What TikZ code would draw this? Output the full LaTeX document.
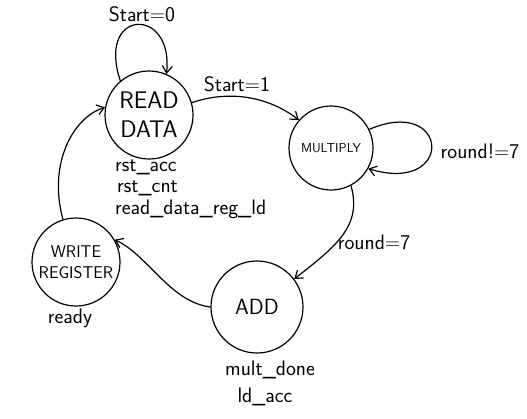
\documentclass[tikz,border=0pt]{standalone}
\usetikzlibrary{arrows.meta}

\tikzset{
  state/.style={draw, circle, line width=1.2pt, inner sep=0pt, font=\sffamily, align=center},
  sig/.style={font=\sffamily\fontsize{21}{24}\selectfont, inner sep=0pt},
  edge/.style={line width=1.2pt, -{Straight Barb[length=7pt, width=10pt]}},
}

\begin{document}
\begin{tikzpicture}[x=1pt, y=-1pt]

% 画布（像素坐标，y 向下）
\useasboundingbox (0,0) rectangle (527,418);

% 状态
\node[state, minimum size=88pt, font=\sffamily\fontsize{24}{29}\selectfont] (read) at (149,115) {READ\\DATA};
\node[state, minimum size=84pt, font=\sffamily\fontsize{13}{15}\selectfont] (mult) at (331,148) {MULTIPLY};
\node[state, minimum size=88pt, font=\sffamily\fontsize{17}{21}\selectfont] (write) at (76,262) {WRITE\\REGISTER};
\node[state, minimum size=92pt, font=\sffamily\fontsize{22}{26}\selectfont] (add) at (257,307) {ADD};

% 自环 start=0
\draw[edge] (read.130) .. controls (96,8) and (174,6) .. (read.67);
\node[sig] (l0) at (142,14) {Start=0};

% READ -> MULTIPLY
\draw[edge] (read.16) .. controls (228,90) and (268,96) .. (mult.139);
\node[sig] (l1) at (237,84) {Start=1};

% 自环 round!=7
\draw[edge] (mult.26) .. controls (450,95) and (455,195) .. (mult.-29);
\node[sig] (l2) at (480,151) {round!=7};

% MULTIPLY -> ADD
\draw[edge] (mult.-62) .. controls (362,225) and (338,245) .. (add.37);
\node[sig] (l3) at (374,242) {round=7};

% ADD -> WRITE
\draw[edge] (add.west) .. controls (170,302) and (148,255) .. (write.30);

% WRITE -> READ
\draw[edge] (write.107) .. controls (48,165) and (72,118) .. (read.170);

% 输出信号
\node[sig, anchor=west] (o1) at (115,167) {rst\_acc};
\node[sig, anchor=west] (o2) at (117,188) {rst\_cnt};
\node[sig, anchor=west] (o3) at (115,209) {read\_data\_reg\_ld};
\node[sig] (o4) at (70,318) {ready};
\node[sig] (o5) at (270,370) {mult\_done};
\node[sig] (o6) at (265,397) {ld\_acc};

\end{tikzpicture}
\end{document}
